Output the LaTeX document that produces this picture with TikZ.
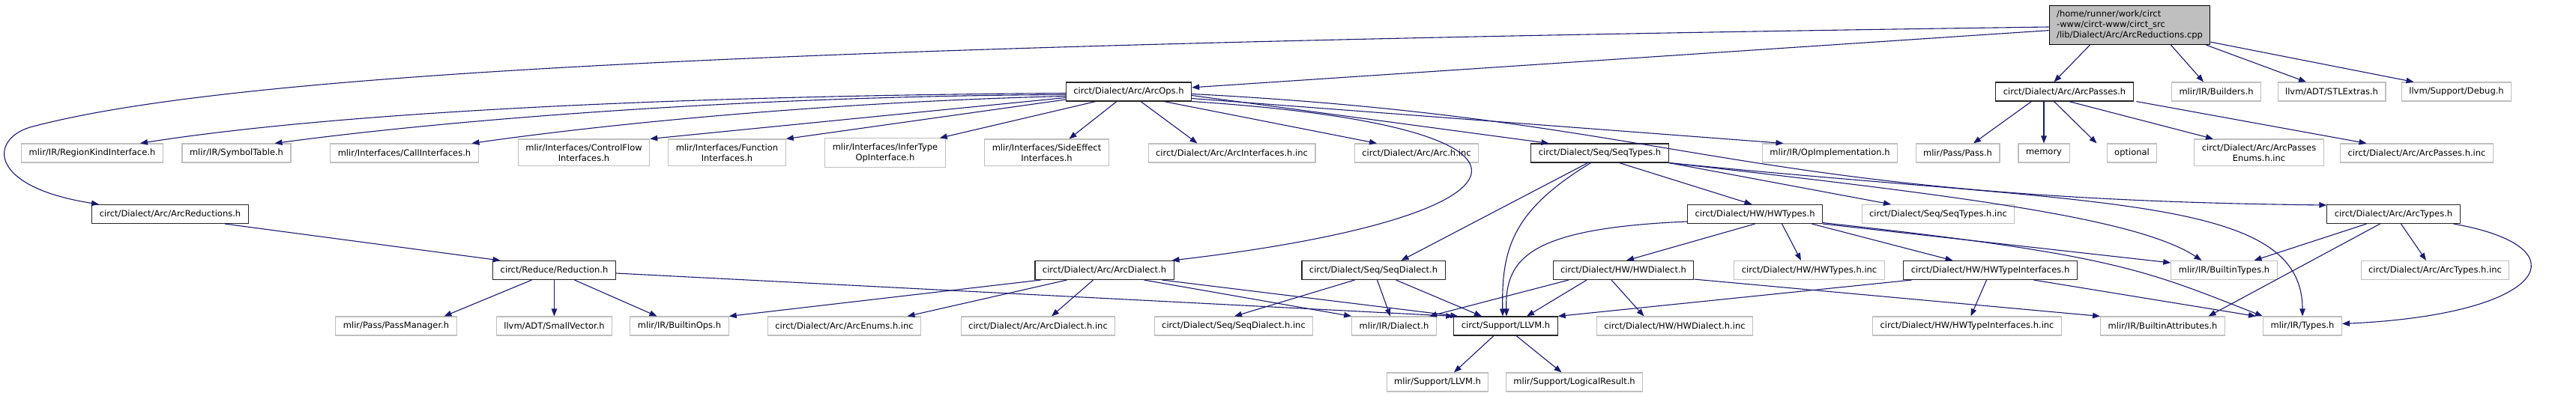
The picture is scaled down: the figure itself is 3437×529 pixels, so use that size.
\documentclass[tikz,border=0pt]{standalone}
\usepackage{fontspec}
\setmainfont{DejaVu Sans}
\usepackage{tikz}
\usetikzlibrary{arrows.meta}
\definecolor{edgeblue}{HTML}{191970}
\definecolor{boxgrey}{HTML}{BFBFBF}

\begin{document}
\begin{tikzpicture}[
  x=1pt, y=1pt,
  every node/.style={font=\fontsize{11.5}{14}\selectfont, inner xsep=10pt,
              inner ysep=6.5pt, minimum height=25pt, align=center, line width=1.1pt},
  hdr/.style={draw=boxgrey},
  doc/.style={draw=black!85},
  src/.style={draw=black, fill=boxgrey, align=left},
  arr/.style={-{Triangle[length=10pt,width=7.5pt]}, color=edgeblue, line width=1.1pt}
]
  \useasboundingbox (0,0) rectangle (3437,-529);

  \node[src] (root) at (2841.5,-33.5) {/home/runner/work/circt\\-www/circt-www/circt\_src\\/lib/Dialect/Arc/ArcReductions.cpp};

  \node[doc] (ops) at (1506,-122.5) {circt/Dialect/Arc/ArcOps.h};
  \node[doc] (passes) at (2754.5,-122.5) {circt/Dialect/Arc/ArcPasses.h};
  \node[hdr] (builders) at (2957,-122.5) {mlir/IR/Builders.h};
  \node[hdr] (stlextras) at (3111,-122.5) {llvm/ADT/STLExtras.h};
  \node[hdr] (debug) at (3277.5,-122.5) {llvm/Support/Debug.h};

  \node[hdr] (regionkind) at (123,-204.5) {mlir/IR/RegionKindInterface.h};
  \node[hdr] (symboltable) at (315.5,-204.5) {mlir/IR/SymbolTable.h};
  \node[hdr] (callif) at (539.5,-204.5) {mlir/Interfaces/CallInterfaces.h};
  \node[hdr] (cflowif) at (779,-204) {mlir/Interfaces/ControlFlow\\Interfaces.h};
  \node[hdr] (funcif) at (970,-204) {mlir/Interfaces/Function\\Interfaces.h};
  \node[hdr] (infertype) at (1181,-204) {mlir/Interfaces/InferType\\OpInterface.h};
  \node[hdr] (sideeffect) at (1396.5,-204) {mlir/Interfaces/SideEffect\\Interfaces.h};
  \node[hdr] (arcifinc) at (1643.5,-204.5) {circt/Dialect/Arc/ArcInterfaces.h.inc};
  \node[hdr] (archinc) at (1890,-204.5) {circt/Dialect/Arc/Arc.h.inc};
  \node[doc] (seqtypes) at (2134.5,-204.5) {circt/Dialect/Seq/SeqTypes.h};
  \node[hdr] (opimpl) at (2441.5,-204.5) {mlir/IR/OpImplementation.h};
  \node[hdr] (pass) at (2612,-204.5) {mlir/Pass/Pass.h};
  \node[hdr] (memory) at (2727,-204.5) {memory};
  \node[hdr] (optional) at (2844.5,-204.5) {optional};
  \node[hdr] (passenums) at (3014,-204) {circt/Dialect/Arc/ArcPasses\\Enums.h.inc};
  \node[hdr] (passesinc) at (3224.5,-204.5) {circt/Dialect/Arc/ArcPasses.h.inc};

  \node[doc] (reductions) at (227,-286) {circt/Dialect/Arc/ArcReductions.h};
  \node[doc] (hwtypes) at (2341.5,-286) {circt/Dialect/HW/HWTypes.h};
  \node[hdr] (seqtypesinc) at (2586,-286) {circt/Dialect/Seq/SeqTypes.h.inc};
  \node[doc] (arctypes) at (3193.5,-286) {circt/Dialect/Arc/ArcTypes.h};

  \node[doc] (reduction) at (739.5,-361) {circt/Reduce/Reduction.h};
  \node[doc] (arcdialect) at (1473.5,-361) {circt/Dialect/Arc/ArcDialect.h};
  \node[doc] (seqdialect) at (1832.5,-361) {circt/Dialect/Seq/SeqDialect.h};
  \node[doc] (hwdialect) at (2166,-361) {circt/Dialect/HW/HWDialect.h};
  \node[hdr] (hwtypesinc) at (2414,-361) {circt/Dialect/HW/HWTypes.h.inc};
  \node[doc] (hwtypeif) at (2655.5,-361) {circt/Dialect/HW/HWTypeInterfaces.h};
  \node[hdr] (builtintypes) at (2967.5,-361) {mlir/IR/BuiltinTypes.h};
  \node[hdr] (arctypesinc) at (3249,-361) {circt/Dialect/Arc/ArcTypes.h.inc};

  \node[hdr] (passmanager) at (528.5,-435.5) {mlir/Pass/PassManager.h};
  \node[hdr] (smallvector) at (739.5,-435.5) {llvm/ADT/SmallVector.h};
  \node[hdr] (builtinops) at (906.5,-435.5) {mlir/IR/BuiltinOps.h};
  \node[hdr] (arcenumsinc) at (1126.5,-435.5) {circt/Dialect/Arc/ArcEnums.h.inc};
  \node[hdr] (arcdialectinc) at (1385,-435.5) {circt/Dialect/Arc/ArcDialect.h.inc};
  \node[hdr] (seqdialectinc) at (1646,-435.5) {circt/Dialect/Seq/SeqDialect.h.inc};
  \node[hdr] (irdialect) at (1860,-435.5) {mlir/IR/Dialect.h};
  \node[doc] (supportllvm) at (2009,-435.5) {circt/Support/LLVM.h};
  \node[hdr] (hwdialectinc) at (2234.5,-435.5) {circt/Dialect/HW/HWDialect.h.inc};
  \node[hdr] (hwtypeifinc) at (2624.5,-435.5) {circt/Dialect/HW/HWTypeInterfaces.h.inc};
  \node[hdr] (builtinattrs) at (2885.5,-435.5) {mlir/IR/BuiltinAttributes.h};
  \node[hdr] (irtypes) at (3072,-435.5) {mlir/IR/Types.h};

  \node[hdr] (mlirllvm) at (1918,-510.5) {mlir/Support/LLVM.h};
  \node[hdr] (logicalresult) at (2100.5,-510.5) {mlir/Support/LogicalResult.h};

  \draw[arr] ([yshift=-2.5]root.west) .. controls (1000,-60) and (300,-100) .. (40,-170)
    .. controls (-15,-187) and (-15,-250) .. ([xshift=-95]reductions.north);
  \draw[arr] (root) -- (ops);
  \draw[arr] ([xshift=-53]root.south) -- ([xshift=-14]passes.north);
  \draw[arr] ([xshift=55]root.south) -- ([xshift=-17]builders.north);
  \draw[arr] ([xshift=102]root.south) -- ([xshift=-34]stlextras.north);
  \draw[arr] ([yshift=4]root.south east) -- ([xshift=-57]debug.north);

  \draw[arr] ([xshift=-44]passes.south) -- ([xshift=21]pass.north);
  \draw[arr] (passes.south -| memory.north) -- (memory);
  \draw[arr] ([xshift=-14]passes.south) -- ([xshift=-47]optional.north);
  \draw[arr] ([xshift=6]passes.south) -- ([xshift=-61]passenums.north);
  \draw[arr] ([xshift=96]passes.south) -- ([xshift=-67]passesinc.north);

  \draw[arr] ([yshift=-2]ops.west) .. controls (900,-128) and (450,-150) .. ([xshift=64]regionkind.north);
  \draw[arr] ([yshift=-4]ops.west) .. controls (1000,-128) and (600,-160) .. ([xshift=51]symboltable.north);
  \draw[arr] ([yshift=-6]ops.west) .. controls (1150,-135) and (850,-160) .. ([xshift=90]callif.north);
  \draw[arr] ([yshift=-8]ops.west) -- (cflowif.north east);
  \draw[arr] ([yshift=-10.5]ops.west) -- (funcif.north east);
  \draw[arr] ([xshift=-44]ops.south) -- ([xshift=-8]infertype.north east);
  \draw[arr] ([xshift=-16]ops.south) -- ([xshift=30]sideeffect.north);
  \draw[arr] ([xshift=16]ops.south) -- ([xshift=-46]arcifinc.north);
  \draw[arr] ([xshift=47]ops.south) -- ([xshift=-53]archinc.north);
  \draw[arr] ([yshift=-5]ops.east) -- ([xshift=-68]seqtypes.north);
  \draw[arr] ([yshift=-9]ops.east) -- ([xshift=-62]opimpl.north);
  \draw[arr] (ops.south east) .. controls (2120,-170) and (2060,-290) .. ([xshift=90]arcdialect.north);
  \draw[arr] ([yshift=-3]ops.east) .. controls (2250,-160) and (2300,-265) .. ([yshift=12]arctypes.west);

  \draw[arr] ([xshift=-73]reductions.south) ++(146,0) -- ([xshift=-72]reduction.north);

  \draw[arr] ([xshift=-16]seqtypes.south) -- ([xshift=37]seqdialect.north);
  \draw[arr] ([xshift=-12]seqtypes.south) .. controls (2020,-280) and (2003,-330) .. ([xshift=-4]supportllvm.north);
  \draw[arr] ([xshift=26]seqtypes.south) -- ([xshift=-4]hwtypes.north);
  \draw[arr] (seqtypes.south east) -- ([xshift=-63]seqtypesinc.north);
  \draw[arr] (seqtypes.south east) .. controls (2600,-260) and (2850,-290) .. ([xshift=-30]builtintypes.north);
  \draw[arr] (seqtypes.south east) .. controls (2800,-275) and (3072,-260) .. (irtypes.north);

  \draw[arr] (hwtypes.south) -- ([xshift=4]hwdialect.north);
  \draw[arr] ([xshift=36]hwtypes.south) -- ([xshift=-11]hwtypesinc.north);
  \draw[arr] ([xshift=76]hwtypes.south) -- ([xshift=-50]hwtypeif.north);
  \draw[arr] ([yshift=-10]hwtypes.west) .. controls (2040,-305) and (2008,-345) .. ([xshift=1]supportllvm.north);
  \draw[arr] (hwtypes.south east) -- ([yshift=10]builtintypes.west);
  \draw[arr] ([yshift=1.5]hwtypes.south east) .. controls (2820,-340) and (2860,-360) .. ([xshift=-53]irtypes.north);

  \draw[arr] ([xshift=-85]arcdialect.south) -- (builtinops.north east);
  \draw[arr] ([xshift=-50]arcdialect.south) -- ([xshift=84]arcenumsinc.north);
  \draw[arr] ([xshift=-15]arcdialect.south) -- ([xshift=18]arcdialectinc.north);
  \draw[arr] ([xshift=53]arcdialect.south) -- (irdialect.north west);
  \draw[arr] ([xshift=77]arcdialect.south) -- ([xshift=6]supportllvm.north west);

  \draw[arr] ([xshift=-25]seqdialect.south) -- ([xshift=1]seqdialectinc.north);
  \draw[arr] ([xshift=5]seqdialect.south) -- ([xshift=-5]irdialect.north);
  \draw[arr] ([xshift=30]seqdialect.south) -- ([xshift=-32]supportllvm.north);

  \draw[arr] ([xshift=-73]hwdialect.south) -- ([xshift=47]irdialect.north);
  \draw[arr] ([xshift=-49]hwdialect.south) -- ([xshift=28]supportllvm.north);
  \draw[arr] ([xshift=-16]hwdialect.south) -- ([xshift=-41]hwdialectinc.north);
  \draw[arr] ([yshift=1]hwdialect.south east) -- (builtinattrs.north west);

  \draw[arr] ([xshift=-105]hwtypeif.south) -- (supportllvm.north east);
  \draw[arr] ([xshift=-5]hwtypeif.south) -- ([xshift=5]hwtypeifinc.north);
  \draw[arr] ([xshift=58]hwtypeif.south) -- ([xshift=-62]irtypes.north);

  \draw[arr] ([xshift=-36]arctypes.south) -- ([xshift=40]builtintypes.north);
  \draw[arr] ([xshift=-18]arctypes.south) -- ([xshift=61]builtinattrs.north);
  \draw[arr] ([xshift=10]arctypes.south) -- ([xshift=-12]arctypesinc.north);
  \draw[arr] ([xshift=80]arctypes.south) .. controls (3450,-330) and (3400,-420) .. ([yshift=3]irtypes.east);

  \draw[arr] ([xshift=-30]reduction.south) -- ([xshift=64]passmanager.north);
  \draw[arr] (reduction) -- (smallvector);
  \draw[arr] ([xshift=27]reduction.south) -- ([xshift=-30]builtinops.north);
  \draw[arr] ([yshift=-4]reduction.east) -- (supportllvm.north west);

  \draw[arr] ([xshift=-16]supportllvm.south) -- ([xshift=22]mlirllvm.north);
  \draw[arr] ([xshift=14]supportllvm.south) -- ([xshift=-17]logicalresult.north);
\end{tikzpicture}
\end{document}
